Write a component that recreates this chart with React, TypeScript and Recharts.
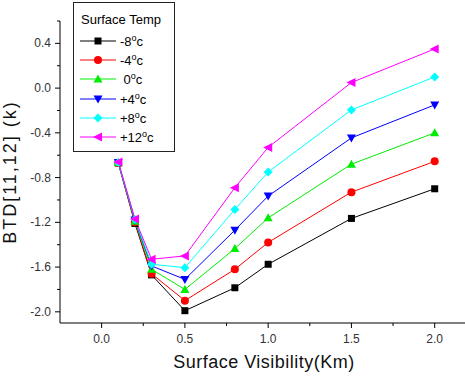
import { LineChart, Line, XAxis, YAxis } from 'recharts';

const visibility = [0.1, 0.2, 0.3, 0.5, 0.8, 1.0, 1.5, 2.0];
const tempLabels = ['-8', '-4', ' 0', '+4', '+8', '+12'];
const tMinus8 = [-0.67, -1.21, -1.67, -1.99, -1.785, -1.575, -1.165, -0.9];
const tMinus4 = [-0.67, -1.2, -1.66, -1.9, -1.62, -1.38, -0.93, -0.655];
const t0 = [-0.665, -1.19, -1.62, -1.8, -1.435, -1.16, -0.68, -0.4];
const tPlus4 = [-0.665, -1.18, -1.59, -1.71, -1.27, -0.965, -0.445, -0.15];
const tPlus8 = [-0.665, -1.175, -1.575, -1.605, -1.085, -0.75, -0.195, 0.1];
const tPlus12 = [-0.66, -1.17, -1.53, -1.5, -0.89, -0.53, 0.05, 0.35];

const seriesValues = [tMinus8, tMinus4, t0, tPlus4, tPlus8, tPlus12];
const colors = ['#000000', '#ff0000', '#00ee00', '#0000ff', '#00ffff', '#ff00ff'];
const shapes = ['square', 'circle', 'up', 'down', 'diamond', 'left'];

const xTicks = [0, 0.25, 0.5, 0.75, 1.0, 1.25, 1.5, 1.75, 2.0];
const yTicks = [-2.0, -1.8, -1.6, -1.4, -1.2, -1.0, -0.8, -0.6, -0.4, -0.2, 0, 0.2, 0.4, 0.6];

const data = visibility.map((x, i) => {
  const row: Record<string, number> = { x };
  seriesValues.forEach((s, k) => (row['s' + k] = s[i]));
  return row;
});

const FONT = '"Liberation Sans", Arial, sans-serif';

function Marker({ shape, cx, cy, color }: { shape: string; cx: number; cy: number; color: string }) {
  switch (shape) {
    case 'square':
      return <rect x={cx - 3.5} y={cy - 3.5} width={7} height={7} fill={color} />;
    case 'circle':
      return <circle cx={cx} cy={cy} r={4} fill={color} />;
    case 'up':
      return <polygon points={`${cx},${cy - 4.5} ${cx + 4.5},${cy + 3.5} ${cx - 4.5},${cy + 3.5}`} fill={color} />;
    case 'down':
      return <polygon points={`${cx},${cy + 4.5} ${cx + 4.5},${cy - 3.5} ${cx - 4.5},${cy - 3.5}`} fill={color} />;
    case 'diamond':
      return <polygon points={`${cx},${cy - 4.5} ${cx + 4.5},${cy} ${cx},${cy + 4.5} ${cx - 4.5},${cy}`} fill={color} />;
    default:
      return <polygon points={`${cx - 5},${cy} ${cx + 4},${cy - 4.5} ${cx + 4},${cy + 4.5}`} fill={color} />;
  }
}

const isMultiple = (v: number, step: number) => Math.abs(v / step - Math.round(v / step)) < 1e-6;

function XTick(props: any) {
  const { x, y, payload } = props;
  const major = isMultiple(payload.value, 0.5);
  return (
    <g>
      <line x1={x} x2={x} y1={y} y2={y + (major ? 5 : 3)} stroke="#000" />
      {major && (
        <text x={x} y={y + 20} textAnchor="middle" fontSize={12} fill="#333" fontFamily={FONT}>
          {payload.value.toFixed(1)}
        </text>
      )}
    </g>
  );
}

function YTick(props: any) {
  const { x, y, payload } = props;
  const major = isMultiple(payload.value, 0.4);
  return (
    <g>
      <line x1={x} x2={x - (major ? 5 : 3)} y1={y} y2={y} stroke="#000" />
      {major && (
        <text x={x - 9} y={y + 4} textAnchor="end" fontSize={12} fill="#333" fontFamily={FONT}>
          {payload.value.toFixed(1)}
        </text>
      )}
    </g>
  );
}

function Legend() {
  return (
    <div
      style={{
        position: 'absolute',
        left: 73,
        top: 2,
        width: 100,
        height: 148,
        border: '1.5px solid #222',
        background: '#fff',
        fontFamily: FONT,
        fontSize: 13,
        color: '#000',
      }}
    >
      <div style={{ position: 'absolute', left: 7, top: 9, whiteSpace: 'nowrap' }}>Surface Temp</div>
      {tempLabels.map((t, i) => (
        <div key={t} style={{ position: 'absolute', left: 0, top: 29 + i * 19.2, height: 18, width: 100 }}>
          <svg width={44} height={18} style={{ position: 'absolute', left: 6, top: 0 }}>
            <line x1={0} x2={36} y1={9} y2={9} stroke={colors[i]} strokeWidth={1} />
            <Marker shape={shapes[i]} cx={18} cy={9} color={colors[i]} />
          </svg>
          <span style={{ position: 'absolute', left: 46, top: 1, whiteSpace: 'pre' }}>
            {t}
            <sup style={{ fontSize: 9 }}>o</sup>c
          </span>
        </div>
      ))}
    </div>
  );
}

export default function App() {
  return (
    <div style={{ position: 'fixed', left: 0, top: 0, width: 465, height: 378, overflow: 'hidden', background: '#fff' }}>
      <LineChart width={468} height={378} data={data} margin={{ top: 21, right: 0, bottom: 0, left: 0 }}>
        <XAxis
          type="number"
          dataKey="x"
          domain={[-0.25, 2.2]}
          ticks={xTicks}
          interval={0}
          allowDataOverflow
          height={55}
          tickSize={0}
          tickMargin={0}
          tickLine={false}
          tick={<XTick />}
          axisLine={{ stroke: '#000' }}
          label={{
            value: 'Surface Visibility(Km)',
            position: 'insideBottom',
            offset: 10,
            style: { fontFamily: FONT, fontSize: 18, fill: '#111', letterSpacing: 0.5 },
          }}
        />
        <YAxis
          type="number"
          domain={[-2.1, 0.6]}
          ticks={yTicks}
          interval={0}
          allowDataOverflow
          width={60}
          tickSize={0}
          tickMargin={0}
          tickLine={false}
          tick={<YTick />}
          axisLine={{ stroke: '#000' }}
          label={{
            content: (p: any) => {
              const { x, y, height } = p.viewBox;
              const cx = x + 16;
              const cy = y + height / 2;
              return (
                <text
                  x={cx}
                  y={cy}
                  transform={`rotate(-90, ${cx}, ${cy})`}
                  textAnchor="middle"
                  fontFamily={FONT}
                  fontSize={18}
                  fill="#111"
                  letterSpacing={2}
                >
                  BTD[11,12] (k)
                </text>
              );
            },
          }}
        />
        {seriesValues.map((_, k) => (
          <Line
            key={k}
            dataKey={'s' + k}
            stroke={colors[k]}
            strokeWidth={1}
            isAnimationActive={false}
            dot={(p: any) => (
              <Marker key={`d${k}-${p.index}`} shape={shapes[k]} cx={p.cx} cy={p.cy} color={colors[k]} />
            )}
            activeDot={false}
          />
        ))}
      </LineChart>
      <Legend />
    </div>
  );
}
